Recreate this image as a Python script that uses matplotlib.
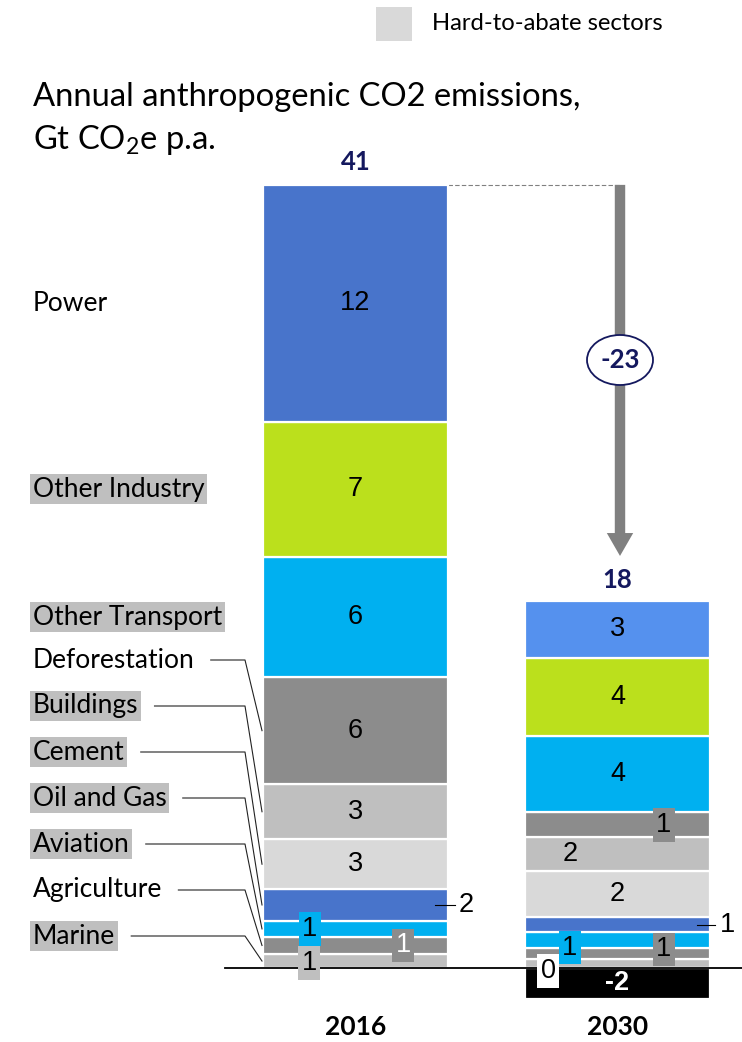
import numpy as np
import matplotlib
matplotlib.use("Agg")
import matplotlib.pyplot as plt
from matplotlib.patches import Ellipse, Rectangle

## sectors, bottom of the stack first
sectors = ["Marine", "Agriculture", "Aviation", "Oil and Gas", "Cement",
           "Buildings", "Deforestation", "Other Transport", "Other Industry", "Power"]
hard_to_abate = [True, False, True, True, True, True, False, True, True, False]
years = ["2016", "2030"]
vals_2016 = [0.73, 0.9, 0.84, 1.67, 2.6, 2.9, 5.6, 6.3, 7.1, 12.4]
vals_2030 = [0.49, 0.58, 0.8, 0.78, 2.45, 1.75, 1.3, 4.0, 4.1, 3.0]
negative_2030 = -1.6

colors_2016 = ["#BFBFBF", "#8C8C8C", "#00B0F0", "#4874CB", "#D9D9D9",
               "#BFBFBF", "#8C8C8C", "#00B0F0", "#BBE01C", "#4874CB"]
colors_2030 = colors_2016[:-1] + ["#5591EE"]

NAVY = "#14185E"
LABEL_FONT = ["Lato", "DejaVu Sans"]
NUM_FONT = ["Liberation Sans", "DejaVu Sans"]

plt.rcParams["mathtext.fontset"] = "custom"
plt.rcParams["mathtext.rm"] = "Lato"

## layout helpers: figure is 742x1042 px, baseline sits at y=968 px
W, H = 742, 1042
BASE = 968
PX = 19.08          # pixels per Gt
X0, XS = 355.5, 262  # centre of first bar, px between bar centres

def xd(px):
    return (px - X0) / XS

def yd(px):
    return (BASE - px) / PX

fig = plt.figure(figsize=(W / 100, H / 100), dpi=100)
ax = fig.add_axes([0, 0, 1, 1])
ax.set_xlim(xd(0), xd(W))
ax.set_ylim(yd(H), yd(0))
ax.axis("off")

xpos = np.arange(len(years))
bw = 185 / XS

## stacked bars
bottoms = {}
for i, (vals, cols) in enumerate([(vals_2016, colors_2016), (vals_2030, colors_2030)]):
    b = np.concatenate([[0], np.cumsum(vals)[:-1]])
    bottoms[i] = b
    ax.bar(xpos[i], vals, bw, bottom=b, color=cols, edgecolor="white",
           linewidth=1.6, zorder=2)
ax.bar(xpos[1], negative_2030, bw, color="black", edgecolor="white",
       linewidth=1.6, zorder=2)

ax.plot([xd(225), xd(W)], [0, 0], color="black", lw=1.3, zorder=3)

def seg_mid(i, k):
    v = vals_2016 if i == 0 else vals_2030
    return bottoms[i][k] + v[k] / 2

def num_label(x, y, v, color="black", box=None, weight="normal"):
    kw = {}
    if box is not None:
        kw["bbox"] = dict(boxstyle="square,pad=0.14", fc=box, ec="none")
    ax.text(x, y, f"{v:.0f}", ha="center", va="center", fontsize=19.5,
            family=NUM_FONT, color=color, fontweight=weight, zorder=5, **kw)

## segment labels, 2016
for k, v in enumerate(vals_2016):
    if k >= 4:
        num_label(xpos[0], seg_mid(0, k), v)
num_label(xd(309), seg_mid(0, 0) - 0.1, vals_2016[0], box="#BFBFBF")
num_label(xd(403), seg_mid(0, 1), vals_2016[1], color="white", box="#8C8C8C")
num_label(xd(310), seg_mid(0, 2), vals_2016[2], box="#00B0F0")
ax.plot([xd(435), xd(455)], [seg_mid(0, 3)] * 2, color="black", lw=0.8, zorder=4)
num_label(xd(466), seg_mid(0, 3), vals_2016[3])

## segment labels, 2030
for k in [4, 7, 8, 9]:
    num_label(xpos[1], seg_mid(1, k), vals_2030[k])
num_label(xd(570), seg_mid(1, 5), vals_2030[5])
num_label(xd(664), seg_mid(1, 6), vals_2030[6], box="#8C8C8C")
num_label(xd(548), seg_mid(1, 0) - 0.4, vals_2030[0], box="white")
num_label(xd(664), seg_mid(1, 1) + 0.2, vals_2030[1], box="#8C8C8C")
num_label(xd(570), seg_mid(1, 2) - 0.4, vals_2030[2], box="#00B0F0")
ax.plot([xd(697), xd(715)], [seg_mid(1, 3)] * 2, color="black", lw=0.8, zorder=4)
num_label(xd(727), seg_mid(1, 3), vals_2030[3])
ax.text(xpos[1], negative_2030 / 2, f"{negative_2030:.0f}", ha="center", va="center",
        fontsize=19.5, family=NUM_FONT, color="white", fontweight="bold", zorder=5)

## totals
tot_2016 = sum(vals_2016)
tot_2030 = sum(vals_2030) + negative_2030
top_2030 = sum(vals_2030)
ax.text(xpos[0], tot_2016 + 1.2, f"{tot_2016:.0f}", ha="center", va="center",
        fontsize=18.5, fontweight="bold", color=NAVY, family=LABEL_FONT)
ax.text(xpos[1], top_2030 + 1.1, f"{tot_2030:.0f}", ha="center", va="center",
        fontsize=18.5, fontweight="bold", color=NAVY, family=LABEL_FONT)

## change arrow
xa = xd(620)
ax.plot([xd(448), xa], [tot_2016, tot_2016], color="gray", lw=0.8, ls=(0, (4, 2)), zorder=1)
ax.annotate("", xy=(xa, top_2030 + 2.2), xytext=(xa, tot_2016 + 0.15),
            arrowprops=dict(arrowstyle="simple,head_width=1.9,head_length=1.65,tail_width=0.75",
                            fc="#808080", ec="none"), zorder=3)
ey = yd(360)
ax.add_patch(Ellipse((xa, ey), 66 / XS, 50 / PX, fc="white", ec=NAVY, lw=1.3, zorder=4))
ax.text(xa, ey, f"{tot_2030 - tot_2016:.0f}", ha="center", va="center", fontsize=18.5,
        fontweight="bold", color=NAVY, family=LABEL_FONT, zorder=5)

## sector names on the left
name_y = {k: yd(660 + 46 * (6 - k)) for k in range(7)}
name_y[7] = seg_mid(0, 7)
name_y[8] = seg_mid(0, 8)
name_y[9] = seg_mid(0, 9)
name_txt = {}
for k, s in enumerate(sectors):
    kw = {}
    if hard_to_abate[k]:
        kw["bbox"] = dict(boxstyle="square,pad=0.1", fc="#BFBFBF", ec="none")
    name_txt[k] = ax.text(xd(33), name_y[k], s, ha="left", va="center", fontsize=19,
                          family=LABEL_FONT, zorder=5, **kw)

## leader lines from names to the lower segments
fig.canvas.draw()
r = fig.canvas.get_renderer()
inv = ax.transData.inverted()
for k in range(7):
    bb = name_txt[k].get_window_extent(r)
    x_start = inv.transform((bb.x1 + 16, 0))[0]
    ax.plot([x_start, xd(245), xd(262)], [name_y[k], name_y[k], seg_mid(0, k)],
            color="#222222", lw=0.8, zorder=4)

## title
ax.text(xd(33), yd(97), "Annual anthropogenic CO2 emissions,", ha="left", va="center",
        fontsize=23.6, family=LABEL_FONT)
ax.text(xd(33), yd(140), "Gt CO$_2$e p.a.", ha="left", va="center",
        fontsize=23.6, family=LABEL_FONT)

## legend
ax.add_patch(Rectangle((xd(376), yd(41)), 36 / XS, 34 / PX, fc="#D9D9D9", ec="none"))
ax.text(xd(432), yd(24), "Hard-to-abate sectors", ha="left", va="center",
        fontsize=17.2, family=LABEL_FONT)

## year labels
for i, y in enumerate(years):
    ax.text(xpos[i], yd(1027), y, ha="center", va="center", fontsize=19,
            fontweight="bold", family=LABEL_FONT)

fig.savefig("out.png", dpi=100)
